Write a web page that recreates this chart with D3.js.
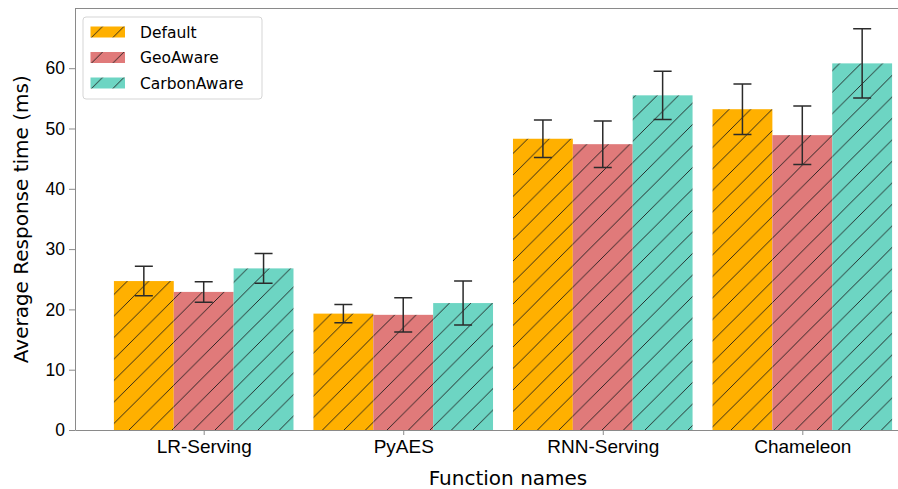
<!DOCTYPE html>
<html>
<head>
<meta charset="utf-8">
<script src="https://cdn.jsdelivr.net/npm/d3@7"></script>
<style>
  body { margin: 0; background: #fff; }
  svg { display: block; font-family: "DejaVu Sans", sans-serif; }
</style>
</head>
<body>
<div id="chart"></div>
<script>
// Data
const categories = ['LR-Serving', 'PyAES', 'RNN-Serving', 'Chameleon']
const seriesNames = ['Default', 'GeoAware', 'CarbonAware']
const defaultMean = [24.7, 19.3, 48.3, 53.2]
const defaultErr = [2.45, 1.5, 3.1, 4.2]
const geoMean = [22.9, 19.1, 47.4, 48.9]
const geoErr = [1.7, 2.85, 3.85, 4.85]
const carbonMean = [26.8, 21.05, 55.5, 60.8]
const carbonErr = [2.45, 3.65, 4.0, 5.75]
const yTicks = [0, 10, 20, 30, 40, 50, 60]

const seriesColors = ['#ffb000', '#e07a7a', '#6dd5c3']

const series = [
  {name: seriesNames[0], means: defaultMean, errs: defaultErr},
  {name: seriesNames[1], means: geoMean, errs: geoErr},
  {name: seriesNames[2], means: carbonMean, errs: carbonErr}
]

const width = 898
const height = 489
const margin = {left: 75, top: 8.5, bottom: 59}
const plotW = 856   // plot area runs past the right edge of the picture
const plotH = height - margin.top - margin.bottom
const barW = 0.3

const svg = d3.select('#chart')
  .append('svg')
  .attr('width', width)
  .attr('height', height)

// Hatch patterns, one per colour
const defs = svg.append('defs')
const hp = 21.5
seriesColors.forEach((c, i) => {
  const p = defs.append('pattern')
    .attr('id', `hatch${i}`)
    .attr('patternUnits', 'userSpaceOnUse')
    .attr('width', hp)
    .attr('height', hp)
  p.append('rect').attr('width', hp).attr('height', hp).attr('fill', c)
  p.append('path')
    .attr('d', `M0,${hp} L${hp},0 M${-hp/2},${hp/2} L${hp/2},${-hp/2} M${hp/2},${hp*1.5} L${hp*1.5},${hp/2}`)
    .attr('stroke', '#1a1a1a')
    .attr('stroke-width', 0.9)
})

// Scales
const xScale = d3.scaleLinear().domain([-0.645, 3.645]).range([margin.left, margin.left + plotW])
const yScale = d3.scaleLinear().domain([0, 69.9]).range([margin.top + plotH, margin.top])

// Bars
const gBars = svg.append('g')
series.forEach((s, si) => {
  const off = (si - 1) * barW
  gBars.selectAll(`.bar${si}`)
    .data(s.means)
    .join('rect')
    .attr('class', `bar${si}`)
    .attr('x', (d, i) => xScale(i + off - barW / 2))
    .attr('width', (d, i) => xScale(i + off + barW / 2) - xScale(i + off - barW / 2))
    .attr('y', d => yScale(d))
    .attr('height', d => yScale(0) - yScale(d))
    .attr('fill', `url(#hatch${si})`)
})

// Error bars
const gErr = svg.append('g')
  .attr('stroke', '#2b2b2b')
  .attr('stroke-width', 1.5)
  .attr('fill', 'none')
series.forEach((s, si) => {
  const off = (si - 1) * barW
  const pts = s.means.map((m, i) => ({x: xScale(i + off), lo: yScale(m - s.errs[i]), hi: yScale(m + s.errs[i])}))
  gErr.selectAll(`.err${si}`)
    .data(pts)
    .join('path')
    .attr('class', `err${si}`)
    .attr('d', d => `M${d.x},${d.lo}V${d.hi}M${d.x - 9},${d.hi}H${d.x + 9}M${d.x - 9},${d.lo}H${d.x + 9}`)
})

// Axes
const bAxis = svg.append('g')
  .attr('transform', `translate(0,${yScale(0)})`)
  .call(d3.axisBottom(xScale)
    .tickValues(d3.range(categories.length))
    .tickFormat(i => categories[i])
    .tickSize(5)
    .tickPadding(5)
    .tickSizeOuter(0))
bAxis.selectAll('text').style('font-size', '19px').attr('fill', '#000')

const lAxis = svg.append('g')
  .attr('transform', `translate(${margin.left},0)`)
  .call(d3.axisLeft(yScale)
    .tickValues(yTicks)
    .tickSize(6)
    .tickPadding(4)
    .tickSizeOuter(0))
lAxis.selectAll('text').style('font-size', '17.5px').attr('fill', '#000')

svg.selectAll('.domain, .tick line').attr('stroke', '#8a8a8a').attr('stroke-width', 1)

// Top spine
svg.append('line')
  .attr('x1', margin.left).attr('x2', margin.left + plotW)
  .attr('y1', margin.top).attr('y2', margin.top)
  .attr('stroke', '#8a8a8a')

// Axis labels
svg.append('text')
  .attr('x', 508)
  .attr('y', 485)
  .style('text-anchor', 'middle')
  .style('font-size', '20px')
  .text('Function names')

svg.append('text')
  .attr('transform', `translate(27.5,${margin.top + plotH / 2}) rotate(-90)`)
  .style('text-anchor', 'middle')
  .style('font-size', '20px')
  .text('Average Response time (ms)')

// Legend
const gLeg = svg.append('g')
gLeg.append('rect')
  .attr('x', 83).attr('y', 17)
  .attr('width', 179).attr('height', 82)
  .attr('rx', 3)
  .attr('fill', '#fff')
  .attr('fill-opacity', 0.8)
  .attr('stroke', '#d5d5d5')

const items = gLeg.selectAll('.item')
  .data(seriesNames)
  .join('g')
  .attr('class', 'item')
  .attr('transform', (d, i) => `translate(0,${i * 25.5})`)
items.append('rect')
  .attr('x', 90.5).attr('y', 26.5)
  .attr('width', 34.5).attr('height', 11)
  .attr('fill', (d, i) => `url(#hatch${i})`)
items.append('text')
  .attr('x', 140).attr('y', 37.8)
  .style('font-size', '15.5px')
  .text(d => d)
</script>
</body>
</html>
